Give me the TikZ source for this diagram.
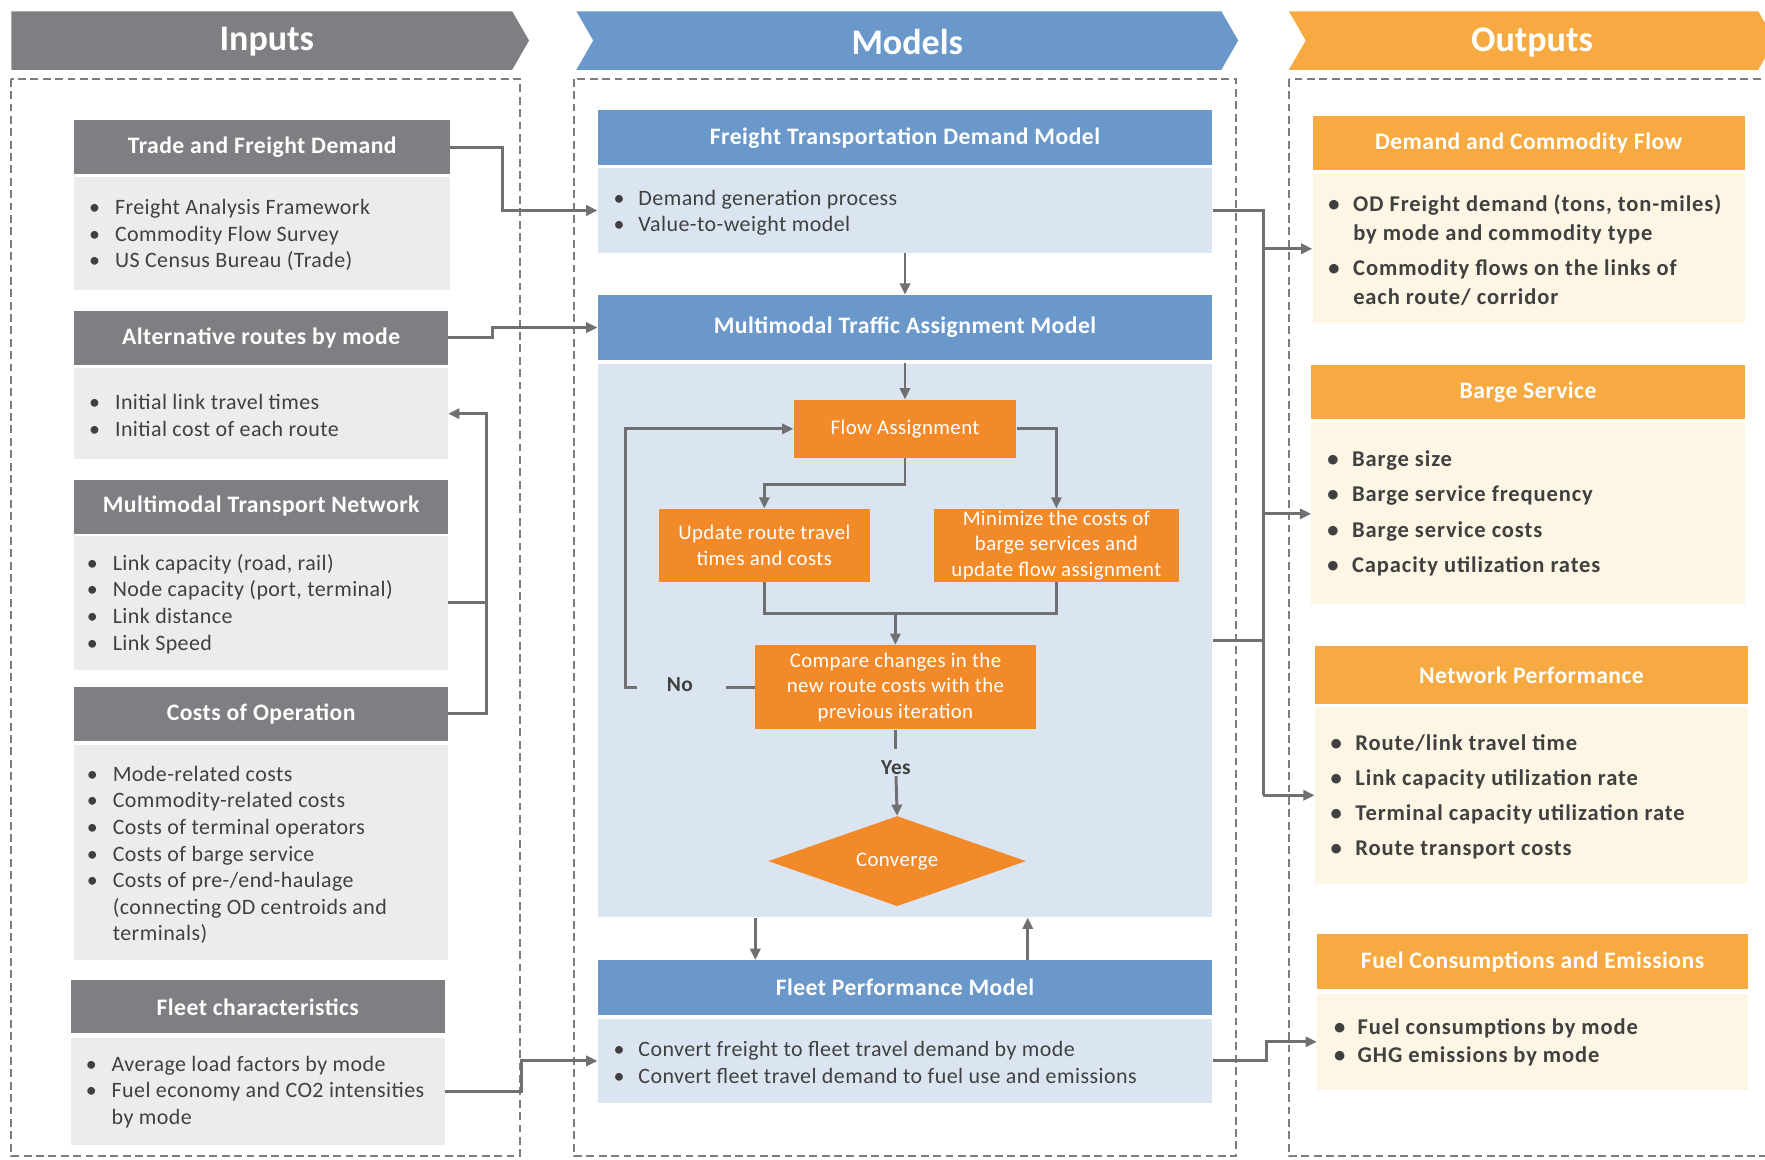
\documentclass[tikz,border=0pt]{standalone}
\usepackage{fontspec}
\setmainfont{Carlito}
\newfontfamily\lsA{Carlito}[LetterSpace=2.0]
\newfontfamily\lsB{Carlito}[LetterSpace=4.0]
\usetikzlibrary{shapes.geometric,arrows.meta,calc}
\definecolor{hgray}{RGB}{127,127,131}
\definecolor{bgray}{RGB}{236,236,236}
\definecolor{hblue}{RGB}{106,152,202}
\definecolor{bblue}{RGB}{219,229,241}
\definecolor{horange}{RGB}{248,170,66}
\definecolor{borange}{RGB}{254,246,229}
\definecolor{forange}{RGB}{243,138,42}
\definecolor{txt}{RGB}{64,64,64}
\definecolor{lgray}{RGB}{112,112,114}
\definecolor{dgray}{RGB}{125,125,128}
\newcommand{\bu}[1][23pt]{\makebox[#1][l]{\textbullet}}
\newcommand{\ct}[1][23pt]{\hspace*{#1}}
\begin{document}
\begin{tikzpicture}[x=1pt,y=-1pt,
  box/.style={rectangle, inner sep=0pt, align=center},
  hdr/.style={box, text=white, font=\lsA\bfseries\fontsize{21}{24}\selectfont},
  inh/.style={hdr, fill=hgray},
  inb/.style={box, fill=bgray},
  moh/.style={hdr, fill=hblue},
  mob/.style={box, fill=bblue},
  ouh/.style={hdr, fill=horange},
  oub/.style={box, fill=borange},
  flow/.style={box, fill=forange, text=white, font=\lsA\fontsize{18.5}{22.5}\selectfont},
  btxt/.style={anchor=west, align=left, inner sep=0pt, text=txt, font=\lsA\fontsize{19.5}{23.6}\selectfont},
  otxt/.style={anchor=west, align=left, inner sep=0pt, text=txt, font=\lsB\bfseries\fontsize{20}{26}\selectfont},
  title/.style={text=white, font=\bfseries\fontsize{32}{36}\selectfont, inner sep=0pt},
  dashbox/.style={draw=dgray, line width=2.2pt, dash pattern=on 7pt off 4pt},
  conn/.style={draw=lgray, line width=2.6pt},
  arr/.style={conn, -{Triangle[length=10pt,width=9pt]}},
  lbl/.style={text=txt, font=\lsA\bfseries\fontsize{19}{21}\selectfont, inner sep=1pt}
]
\useasboundingbox (0,0) rectangle (1568,1030);
\clip (0,0) rectangle (1568,1030);
\fill[white] (0,0) rectangle (1568,1030);

% ---- column banners
\fill[hgray] (10,10) -- (455,10) -- (470,36) -- (455,62) -- (10,62) -- cycle;
\fill[hblue] (512,10) -- (1085,10) -- (1100,36) -- (1085,62) -- (512,62) -- (527,36) -- cycle;
\fill[horange] (1145,10) -- (1562,10) -- (1577,36) -- (1562,62) -- (1145,62) -- (1160,36) -- cycle;
\node[title] (tin) at (237,37) {Inputs};
\node[title] (tmo) at (806,37) {Models};
\node[title] (tou) at (1361,38) {Outputs};

% ---- dashed column frames
\draw[dashbox] (10,70) rectangle (462,1027);
\draw[dashbox] (510,70) rectangle (1098,1027);
\draw[dashbox] (1145,70) rectangle (1580,1027);

% ---- Inputs
\node[inh, minimum width=334, minimum height=48] (tfdh) at (233,131) {Trade and Freight Demand};
\node[inb, minimum width=334, minimum height=101] (tfdb) at (233,207.5) {};
\node[btxt] (tfdt) at (79,209) {\bu Freight Analysis Framework\\ \bu Commodity Flow Survey\\ \bu US Census Bureau (Trade)};

\node[inh, minimum width=332, minimum height=48] (arh) at (232,300) {Alternative routes by mode};
\node[inb, minimum width=332, minimum height=81] (arb) at (232,367.5) {};
\node[btxt] (art) at (79,369) {\bu Initial link travel times\\ \bu Initial cost of each route};

\node[inh, minimum width=332, minimum height=48] (mtnh) at (232,450) {Multimodal Transport Network};
\node[inb, minimum width=332, minimum height=119] (mtnb) at (232,535.5) {};
\node[btxt] (mtnt) at (77,536.5) {\bu[23pt]Link capacity (road, rail)\\ \bu[23pt]Node capacity (port, terminal)\\ \bu[23pt]Link distance\\ \bu[23pt]Link Speed};

\node[inh, minimum width=332, minimum height=48] (coh) at (232,634) {Costs of Operation};
\node[inb, minimum width=332, minimum height=191] (cob) at (232,757.5) {};
\node[btxt] (cot) at (77,759.5) {\bu Mode-related costs\\ \bu Commodity-related costs\\ \bu Costs of terminal operators\\ \bu Costs of barge service\\ \bu Costs of pre-/end-haulage\\ \ct (connecting OD centroids and\\ \ct terminals)};

\node[inh, minimum width=332, minimum height=47] (fch) at (229,894.5) {Fleet characteristics};
\node[inb, minimum width=332, minimum height=95] (fcb) at (229,969.5) {};
\node[btxt] (fct) at (76,970) {\bu Average load factors by mode\\ \bu Fuel economy and CO2 intensities\\ \ct by mode};

% ---- Models
\node[moh, minimum width=546, minimum height=49] (ftdh) at (804,122.5) {Freight Transportation Demand Model};
\node[mob, minimum width=546, minimum height=76] (ftdb) at (804,187) {};
\node[btxt] (ftdt) at (545,189) {\bu[22pt]Demand generation process\\ \bu[22pt]Value-to-weight model};

\node[moh, minimum width=546, minimum height=58] (mtah) at (804,291) {Multimodal Traffic Assignment Model};
\node[mob, minimum width=546, minimum height=492] (mtab) at (804,569) {};

\node[flow, minimum width=198, minimum height=52] (fa) at (804,381) {Flow Assignment};
\node[flow, minimum width=188, minimum height=65] (upd) at (679,484.5) {Update route travel\\ times and costs};
\node[flow, minimum width=217, minimum height=65] (minz) at (938.5,484.5) {Minimize the costs of\\ barge services and\\ update flow assignment};
\node[flow, minimum width=249, minimum height=75] (cmp) at (795.5,610.5) {Compare changes in the\\ new route costs with the\\ previous iteration};
\node[shape=diamond, fill=forange, text=white, font=\lsA\fontsize{18.5}{21}\selectfont, inner sep=0pt, aspect=2.86, minimum width=229, minimum height=80] (conv) at (797,765) {Converge};
\node[lbl] (no) at (604,608) {No};
\node[lbl] (yes) at (796,682) {Yes};

\node[moh, minimum width=546, minimum height=49] (fpmh) at (804,877.5) {Fleet Performance Model};
\node[mob, minimum width=546, minimum height=75] (fpmb) at (804,942.5) {};
\node[btxt] (fpmt) at (545,944) {\bu[22pt]Convert freight to fleet travel demand by mode\\ \bu[22pt]Convert fleet travel demand to fuel use and emissions};

% ---- Outputs
\node[ouh, minimum width=384, minimum height=48] (dcfh) at (1358,127) {Demand and Commodity Flow};
\node[oub, minimum width=384, minimum height=132] (dcfb) at (1358,221) {};
\node[otxt] (dcft) at (1180,222) {\bu[22pt]OD Freight demand (tons, ton-miles)\\ \ct[22pt]by mode and commodity type\\[5pt] \bu[22pt]Commodity flows on the links of\\ \ct[22pt]each route/ corridor};

\node[ouh, minimum width=385, minimum height=48] (bsh) at (1357.5,348) {Barge Service};
\node[oub, minimum width=385, minimum height=161] (bsb) at (1357.5,456.5) {};
\node[otxt, font=\lsB\bfseries\fontsize{20}{31.3}\selectfont] (bst) at (1179,456) {\bu[22pt]Barge size\\ \bu[22pt]Barge service frequency\\ \bu[22pt]Barge service costs\\ \bu[22pt]Capacity utilization rates};

\node[ouh, minimum width=385, minimum height=51] (nph) at (1360.5,599.5) {Network Performance};
\node[oub, minimum width=385, minimum height=157] (npb) at (1360.5,706.5) {};
\node[otxt, font=\lsB\bfseries\fontsize{20}{31.3}\selectfont] (npt) at (1182,708) {\bu[22pt]Route/link travel time\\ \bu[22pt]Link capacity utilization rate\\ \bu[22pt]Terminal capacity utilization rate\\ \bu[22pt]Route transport costs};

\node[ouh, minimum width=383, minimum height=49] (fceh) at (1361.5,854.5) {Fuel Consumptions and Emissions};
\node[oub, minimum width=383, minimum height=85] (fceb) at (1361.5,925.5) {};
\node[otxt, font=\lsB\bfseries\fontsize{20}{25}\selectfont] (fcet) at (1185,926) {\bu[21pt]Fuel consumptions by mode\\ \bu[21pt]GHG emissions by mode};

% ---- Inputs -> Models
\draw[arr] (tfdh.east) -- ++(46,0) |- (ftdb.west);
\draw[arr] (arh.east) -- ++(39,0) |- (mtah.west);
\draw[conn] (mtnb.east) -- ++(34,0);
\draw[arr] (coh.east) -- ++(34,0) |- (arb.east);
\draw[arr] (fcb.east) -- ++(68,0) |- (fpmb.west);

% ---- inside Models
\draw[arr] (ftdb.south) -- (mtah.north);
\draw[arr] (mtab.north) -- (fa.north);
\draw[arr] (fa.south) -- ++(0,23) -| (upd.north);
\draw[arr] (fa.east) -| (minz.north);
\draw[conn] (upd.south) -- ++(0,28) coordinate (ju) -| (minz.south);
\draw[arr] (ju -| cmp.north) -- (cmp.north);
\draw[conn] (cmp.west) -- ++(-26,0);
\coordinate (nostub) at (566,611);
\draw[arr] (nostub) -- ++(-10,0) |- (fa.west);
\draw[conn] (cmp.south) -- ++(0,17);
\draw[arr] (yes.south) -- (conv.north);
\draw[arr] ([xshift=-133pt]mtab.south) -- ([xshift=-133pt]fpmh.north);
\draw[arr] ([xshift=109pt]fpmh.north) -- ([xshift=109pt]mtab.south);

% ---- Models -> Outputs
\draw[conn] (ftdb.east) -- ++(45,0) coordinate (bus) -- (bus |- npb.west);
\draw[conn] (mtab.east) -- (mtab.east -| bus);
\draw[arr] (bus |- dcfb.west) -- (dcfb.west);
\draw[arr] (bus |- bsb.west) -- (bsb.west);
\draw[arr] (bus |- npb.west) -- (npb.west);
\draw[arr] (fpmb.east) -- ++(48,0) |- (fceb.west);
\end{tikzpicture}
\end{document}
